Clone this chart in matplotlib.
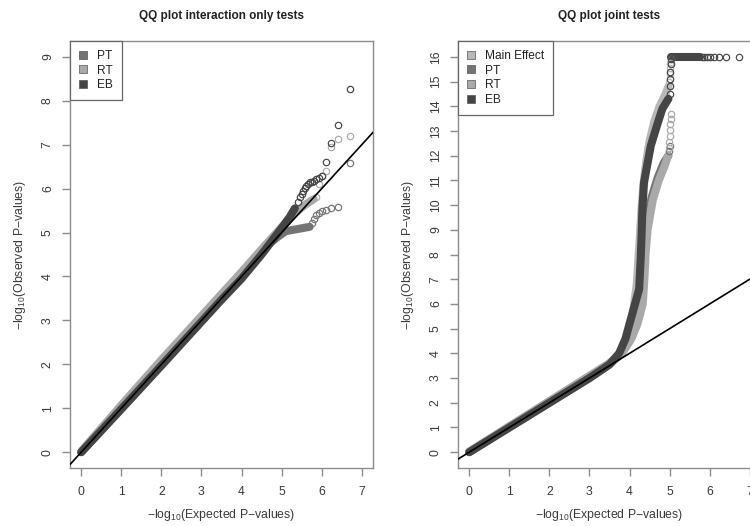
import matplotlib
matplotlib.use('Agg')
import matplotlib.pyplot as plt
from matplotlib.patches import Patch

plt.rcParams['font.family'] = ['Liberation Sans', 'DejaVu Sans']
plt.rcParams['mathtext.fontset'] = 'custom'
plt.rcParams['mathtext.rm'] = 'Liberation Sans'
plt.rcParams['mathtext.it'] = 'Liberation Sans:italic'
plt.rcParams['mathtext.bf'] = 'Liberation Sans:bold'

# ---------------- data ----------------
titles = ['QQ plot interaction only tests', 'QQ plot joint tests']
xlabel = r'$-\mathrm{log}_{\mathrm{10}}$(Expected P$-$values)'
ylabel = r'$-\mathrm{log}_{\mathrm{10}}$(Observed P$-$values)'
x_ticks = [0, 1, 2, 3, 4, 5, 6, 7]
left_y_ticks = [0, 1, 2, 3, 4, 5, 6, 7, 8, 9]
right_y_ticks = list(range(0, 17))
ref_slope = 1.0

left_series = ['PT', 'RT', 'EB']
right_series = ['Main Effect', 'PT', 'RT', 'EB']
colors = {'Main Effect': '#b8b8b8', 'PT': '#747474', 'RT': '#a9a9a9', 'EB': '#454545'}

# Left panel: interaction-only tests (dense body + sparse tail)
L_PT_body_x = [0, 1, 2, 3, 3.5, 4.0, 4.4, 4.7, 4.9, 5.1, 5.4, 5.7]
L_PT_body_y = [0, 1.0, 2.0, 3.0, 3.5, 4.0, 4.45, 4.75, 4.9, 5.03, 5.08, 5.13]
L_PT_tail_x = [5.76, 5.81, 5.87, 5.93, 6.01, 6.11, 6.24, 6.41, 6.71]
L_PT_tail_y = [5.22, 5.30, 5.40, 5.45, 5.48, 5.51, 5.56, 5.59, 6.58]

L_RT_body_x = [0, 1, 2, 3, 3.5, 4.0, 4.5, 5.0, 5.3, 5.6, 5.8]
L_RT_body_y = [0.02, 1.07, 2.1, 3.1, 3.6, 4.1, 4.62, 5.12, 5.42, 5.64, 5.76]
L_RT_tail_x = [5.87, 5.93, 6.01, 6.11, 6.24, 6.41, 6.71]
L_RT_tail_y = [5.80, 6.10, 6.28, 6.40, 6.95, 7.13, 7.19]

L_EB_body_x = [0, 1, 2, 3, 3.5, 4.0, 4.5, 5.0, 5.2, 5.33]
L_EB_body_y = [0, 0.98, 1.97, 2.97, 3.47, 3.95, 4.5, 5.1, 5.35, 5.55]
L_EB_tail_x = [5.41, 5.46, 5.50, 5.54, 5.58, 5.62, 5.66, 5.71, 5.76, 5.81, 5.87, 5.93, 6.01, 6.11, 6.24, 6.41, 6.71]
L_EB_tail_y = [5.70, 5.80, 5.88, 5.95, 6.01, 6.06, 6.10, 6.14, 6.16, 6.18, 6.22, 6.25, 6.28, 6.60, 7.03, 7.44, 8.27]

# Right panel: joint tests
R_ME_body_x = [0, 1, 2, 3, 3.5, 3.75, 3.9, 4.0, 4.1, 4.18, 4.22, 4.26, 4.3, 4.35, 4.42, 4.5, 4.62, 4.75, 4.9, 4.97]
R_ME_body_y = [0.02, 1.05, 2.07, 3.1, 3.6, 3.95, 4.4, 5.0, 5.8, 6.8, 7.8, 8.8, 9.9, 10.9, 11.8, 12.6, 13.4, 14.0, 14.5, 14.8]
R_ME_tail_x = [4.99, 5.0, 5.01, 5.02, 5.03]
R_ME_tail_y = [15.0, 15.3, 15.55, 15.75, 15.9]

R_PT_body_x = [0, 1, 2, 3, 3.5, 3.8, 4.0, 4.15, 4.28, 4.34, 4.37, 4.42, 4.55, 4.7, 4.85, 4.97]
R_PT_body_y = [0, 1.0, 2.0, 3.0, 3.55, 4.0, 4.5, 5.2, 6.2, 7.2, 8.2, 9.2, 10.3, 11.1, 11.7, 12.0]
R_PT_tail_x = [4.99, 5.0]
R_PT_tail_y = [12.2, 12.4]

R_RT_body_x = [0, 1, 2, 3, 3.5, 3.85, 4.05, 4.2, 4.33, 4.37, 4.4, 4.45, 4.58, 4.73, 4.88, 4.96]
R_RT_body_y = [0.02, 1.04, 2.06, 3.07, 3.6, 4.1, 4.6, 5.2, 6.0, 7.0, 8.0, 9.0, 10.2, 11.0, 11.6, 12.0]
R_RT_tail_x = [4.98, 4.99, 5.0, 5.01, 5.02, 5.03, 5.04]
R_RT_tail_y = [12.3, 12.55, 12.8, 13.05, 13.3, 13.5, 13.7]

R_EB_body_x = [0, 1, 2, 3, 3.5, 3.74, 3.9, 4.0, 4.12, 4.24, 4.28, 4.3, 4.32, 4.36, 4.45, 4.53, 4.7, 4.82, 4.97]
R_EB_body_y = [0, 1.0, 2.0, 3.0, 3.55, 4.0, 4.6, 5.2, 5.9, 6.6, 7.9, 8.8, 9.8, 10.9, 11.7, 12.4, 13.3, 13.9, 14.3]
R_EB_tail_x = [5.0, 5.01, 5.02, 5.02, 5.03, 5.03]
R_EB_tail_y = [14.5, 14.8, 15.1, 15.4, 15.7, 15.9]
R_EB_cap_x = [5.04, 5.75]
R_EB_cap_y = [16, 16]
R_EB_cap_tail_x = [5.81, 5.87, 5.93, 6.01, 6.11, 6.24, 6.41, 6.72]
R_EB_cap_tail_y = [16, 16, 16, 16, 16, 16, 16, 16]

# ---------------- figure ----------------
W, H = 750, 526
fig = plt.figure(figsize=(W / 100, H / 100), dpi=100)
axL = fig.add_axes([70 / W, 1 - 468 / H, 303 / W, 427 / H])
axR = fig.add_axes([458 / W, 1 - 468 / H, 303 / W, 427 / H])

BAND_LW = 5.8
MS = 4.6
MEW = 0.85


def draw(ax, bx, by, tx, ty, color):
    ax.plot(bx, by, color=color, lw=BAND_LW, solid_capstyle='round',
            solid_joinstyle='round', zorder=2)
    ax.plot(tx, ty, ls='none', marker='o', ms=MS, mfc='none', mec=color,
            mew=MEW, zorder=3)


draw(axL, L_PT_body_x, L_PT_body_y, L_PT_tail_x, L_PT_tail_y, colors['PT'])
draw(axL, L_RT_body_x, L_RT_body_y, L_RT_tail_x, L_RT_tail_y, colors['RT'])
draw(axL, L_EB_body_x, L_EB_body_y, L_EB_tail_x, L_EB_tail_y, colors['EB'])

draw(axR, R_ME_body_x, R_ME_body_y, R_ME_tail_x, R_ME_tail_y, colors['Main Effect'])
draw(axR, R_PT_body_x, R_PT_body_y, R_PT_tail_x, R_PT_tail_y, colors['PT'])
draw(axR, R_RT_body_x, R_RT_body_y, R_RT_tail_x, R_RT_tail_y, colors['RT'])
draw(axR, R_EB_body_x, R_EB_body_y, R_EB_tail_x, R_EB_tail_y, colors['EB'])
draw(axR, R_EB_cap_x, R_EB_cap_y, R_EB_cap_tail_x, R_EB_cap_tail_y, colors['EB'])

GRID = '#8c8c8c'
TXT = '#3a3a3a'
for ax, yt, title, series in [(axL, left_y_ticks, titles[0], left_series),
                              (axR, right_y_ticks, titles[1], right_series)]:
    ax.axline((0, 0), slope=ref_slope, color='black', lw=1.2, zorder=4)
    ax.set_xlim(x_ticks[0] - 0.04 * (x_ticks[-1] - x_ticks[0]),
                x_ticks[-1] + 0.04 * (x_ticks[-1] - x_ticks[0]))
    ax.set_ylim(yt[0] - 0.04 * (yt[-1] - yt[0]), yt[-1] + 0.04 * (yt[-1] - yt[0]))
    ax.set_xticks(x_ticks)
    ax.set_yticks(yt)
    ax.tick_params(direction='out', length=5.8, width=1, color=GRID,
                   labelsize=8.8, labelcolor=TXT)
    ax.tick_params(axis='x', pad=7.2)
    ax.tick_params(axis='y', pad=5.8)
    for lab in ax.get_yticklabels():
        lab.set_rotation(90)
        lab.set_va('center')
    for sp in ax.spines.values():
        sp.set_color(GRID)
        sp.set_linewidth(1)
    ax.set_xlabel(xlabel, fontsize=8.8, color=TXT, va='center')
    ax.xaxis.set_label_coords(0.5, -(514.7 - 468) / 427)
    ax.set_ylabel(ylabel, fontsize=8.8, color=TXT, va='center')
    ax.yaxis.set_label_coords(-50 / 303, 0.5)
    ax.set_title(title, fontsize=8.5, fontweight='bold', color='#222222',
                 pad=15.5)
    handles = [Patch(facecolor=colors[s], edgecolor='#555555', lw=0.5, label=s)
               for s in series]
    leg = ax.legend(handles=handles, loc='upper left', bbox_to_anchor=(0, 1),
                    borderaxespad=0, fontsize=8.6, frameon=True, fancybox=False,
                    framealpha=1, edgecolor='#666666', handlelength=0.65,
                    handleheight=0.65, handletextpad=0.85, labelspacing=0.22,
                    borderpad=0.75)
    leg.get_frame().set_linewidth(0.9)
    for t in leg.get_texts():
        t.set_color('#222222')

fig.savefig('out.png', dpi=100)
